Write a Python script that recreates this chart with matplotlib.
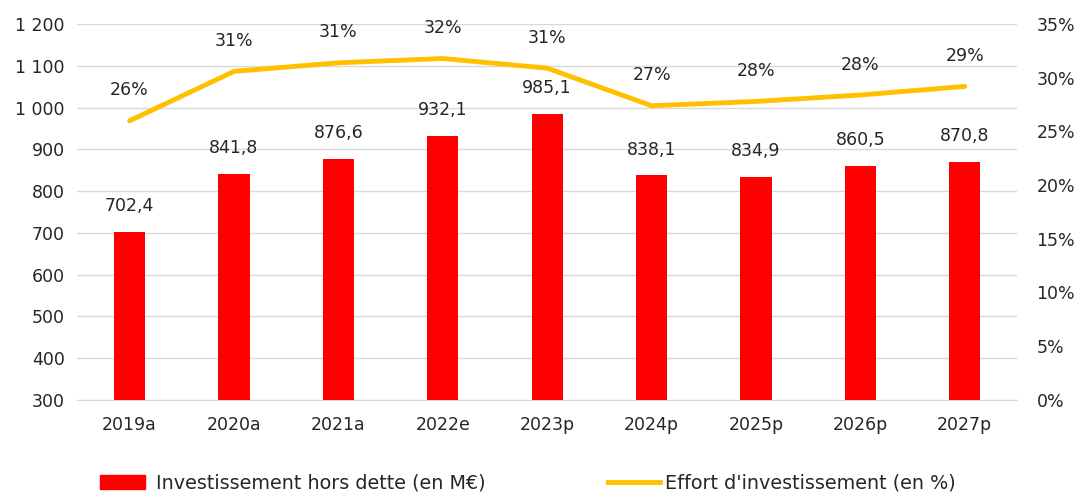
import matplotlib.pyplot as plt
import numpy as np
from matplotlib.ticker import FuncFormatter
from matplotlib.patches import Patch
from matplotlib.lines import Line2D

# Data
years = ['2019a', '2020a', '2021a', '2022e', '2023p', '2024p', '2025p', '2026p', '2027p']
invest = [702.4, 841.8, 876.6, 932.1, 985.1, 838.1, 834.9, 860.5, 870.8]
effort = [26.0, 30.6, 31.4, 31.8, 30.9, 27.4, 27.8, 28.4, 29.2]
effort_labels = ['26%', '31%', '31%', '32%', '31%', '27%', '28%', '28%', '29%']

plt.rcParams['font.family'] = ['DejaVu Sans']
FS = 12.5
TXT = '#262626'

fig = plt.figure(figsize=(10.75, 4.93), dpi=100)
ax = fig.add_axes([0.072, 0.189, 0.874, 0.762])
x = np.arange(len(years))

# Bars (axis starts at 300)
ax.bar(x, np.array(invest) - 300, bottom=300, width=0.3, color='#ff0000', zorder=3)
for xi, v in zip(x, invest):
    ax.text(xi, v + 40, f"{v:.1f}".replace('.', ','), ha='center', va='bottom',
            fontsize=FS, color=TXT)

ax.set_ylim(300, 1200)
ax.set_xlim(-0.5, len(years) - 0.5)
ax.set_yticks(np.arange(300, 1201, 100))
ax.yaxis.set_major_formatter(FuncFormatter(lambda v, p: f"{int(v):,}".replace(',', ' ')))
ax.set_xticks(x)
ax.set_xticklabels(years)
ax.grid(axis='y', color='#d9d9d9', linewidth=1, zorder=0)
for s in ['top', 'right', 'left']:
    ax.spines[s].set_visible(False)
ax.spines['bottom'].set_color('#d9d9d9')
ax.tick_params(length=0, labelsize=FS, colors=TXT)
ax.tick_params(axis='x', pad=12)
ax.tick_params(axis='y', pad=9)

# Line on secondary axis
ax2 = ax.twinx()
ax2.plot(x, effort, color='#ffc000', linewidth=3.5, solid_capstyle='round', zorder=4)
for xi, v, lab in zip(x, effort, effort_labels):
    ax2.text(xi, v + 2.0, lab, ha='center', va='bottom', fontsize=FS, color=TXT)
ax2.set_ylim(0, 35)
ax2.set_yticks(np.arange(0, 36, 5))
ax2.yaxis.set_major_formatter(FuncFormatter(lambda v, p: f"{int(v)}%"))
for s in ['top', 'right', 'left', 'bottom']:
    ax2.spines[s].set_visible(False)
ax2.tick_params(length=0, labelsize=FS, colors=TXT, pad=14)

# Legend (two pieces, placed like the original)
LFS = 13.8
fig.legend([Patch(color='#ff0000')], ['Investissement hors dette (en M€)'],
           loc='center left', bbox_to_anchor=(100 / 1075, 0.02), frameon=False,
           fontsize=LFS, borderpad=0, borderaxespad=0, handlelength=2.35,
           handletextpad=0.55, labelcolor=TXT)
fig.legend([Line2D([0], [0], color='#ffc000', linewidth=3.5)],
           ["Effort d'investissement (en %)"],
           loc='center left', bbox_to_anchor=(608 / 1075, 0.02), frameon=False,
           fontsize=LFS, borderpad=0, borderaxespad=0, handlelength=2.7,
           handletextpad=0.25, labelcolor=TXT)

fig.savefig('out.png', dpi=100)
